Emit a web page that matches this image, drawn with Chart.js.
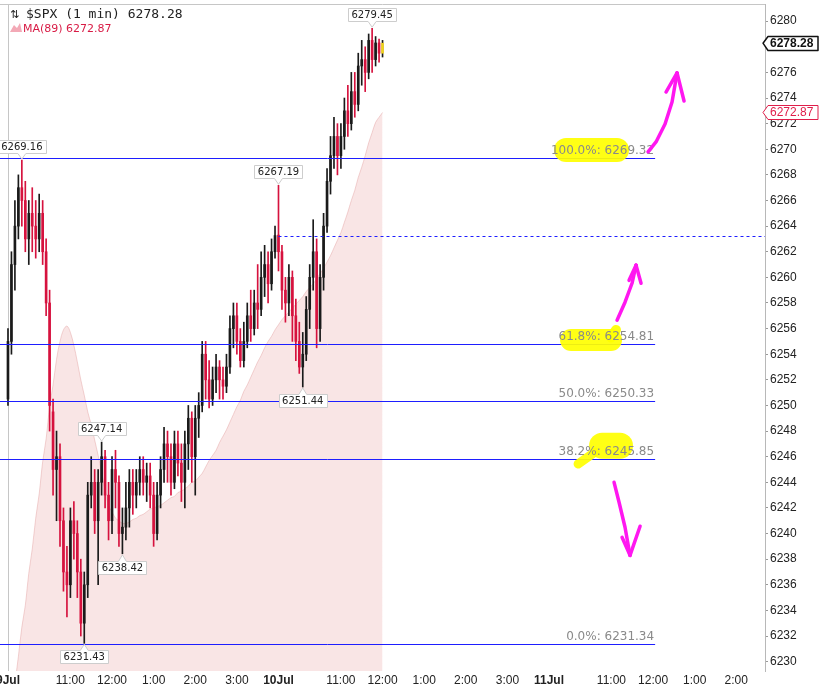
<!DOCTYPE html>
<html>
<head>
<meta charset="utf-8">
<script src="https://cdn.jsdelivr.net/npm/chart.js@4.4.1/dist/chart.umd.min.js"></script>
<style>
  html, body { margin: 0; padding: 0; background: #fff; }
  canvas { display: block; }
</style>
</head>
<body>
<canvas id="spx" width="834" height="686"></canvas>
<script>
// $SPX intraday, bars at 5 minute steps (trading minutes from 9 Jul 9:30)
const symbolName = '$SPX (1 min)';
const maName = 'MA(89)';

const opens = [
  6250.5, 6255, 6261, 6264, 6267, 6266, 6263, 6265, 6264, 6263,
  6265, 6262, 6258, 6249.5, 6245, 6246, 6241, 6237, 6236, 6241,
  6240, 6237, 6233, 6236, 6243, 6244, 6241, 6244, 6246, 6243,
  6241, 6245, 6244, 6240, 6240.5, 6242, 6244, 6243, 6244, 6245,
  6244, 6244.5, 6243, 6240, 6243, 6245, 6247, 6246, 6244, 6247,
  6245.5, 6244, 6247, 6249, 6246, 6249, 6250, 6254, 6252, 6250.5,
  6252, 6253, 6252, 6251.5, 6253, 6256, 6257, 6255, 6253.5, 6255,
  6257, 6256, 6258, 6257.5, 6260, 6261, 6259.5, 6262, 6263.3, 6262,
  6259, 6258, 6260, 6257, 6255, 6253, 6254, 6257.5, 6260, 6262,
  6256, 6260, 6264, 6267.5, 6269.5, 6271, 6269.5, 6271, 6273, 6272,
  6274.5, 6273.5, 6276.5, 6277, 6276, 6278.5, 6277, 6278.3, 6277.5
];
const highs = [
  6256, 6262, 6266, 6268, 6269.16, 6267.5, 6266, 6267, 6266, 6266.5,
  6266, 6263, 6259, 6250.5, 6248, 6247, 6242, 6239, 6242, 6242.5,
  6241, 6238, 6237, 6244, 6246, 6245, 6245, 6247.14, 6246.5, 6244,
  6246, 6246.5, 6244.5, 6242, 6244, 6245, 6245, 6245, 6246, 6246,
  6245.5, 6245.5, 6244, 6244, 6246, 6248.3, 6248, 6247, 6248, 6248,
  6247, 6248, 6250, 6249.5, 6250, 6251, 6255, 6255, 6253.5, 6253,
  6254, 6253.5, 6253, 6254, 6257, 6258, 6258, 6256, 6256.5, 6258,
  6259, 6259, 6261, 6262, 6262.5, 6262, 6263, 6264, 6267.19, 6262.5,
  6260, 6261, 6260.5, 6258.3, 6256.5, 6255.7, 6258.5, 6261, 6264.5, 6263,
  6261, 6265, 6268.5, 6271, 6272.5, 6272, 6272, 6274, 6275, 6276,
  6276, 6277.5, 6278.5, 6278, 6279, 6279.45, 6278.8, 6278.6, 6278.5
];
const lows = [
  6250, 6254, 6259, 6263, 6264, 6262, 6261, 6262, 6261.5, 6262,
  6261, 6257, 6248, 6243, 6241, 6239, 6235.5, 6233.5, 6235, 6238,
  6235, 6232, 6231.43, 6235, 6242, 6240, 6236, 6243, 6242, 6239.5,
  6240, 6242, 6239, 6238.42, 6239.5, 6240.5, 6241.5, 6242, 6243, 6243,
  6242.5, 6242, 6239, 6239.5, 6242, 6244, 6244, 6243, 6243.5, 6244.5,
  6242.5, 6242, 6245, 6244, 6243, 6247.5, 6249.5, 6250.5, 6249.8, 6250,
  6251, 6250.5, 6250.5, 6251, 6252.5, 6254.5, 6254, 6253, 6253, 6254.5,
  6255, 6255.5, 6256, 6257, 6258.5, 6258, 6259, 6261.5, 6260.5, 6257.5,
  6256.5, 6257, 6255, 6253.5, 6252.5, 6251.44, 6253.5, 6256, 6259, 6254.5,
  6255, 6259, 6263.5, 6266.5, 6268.5, 6268, 6268.5, 6270, 6271, 6271.5,
  6272.5, 6273, 6275, 6274.5, 6275.5, 6276, 6276.5, 6276.8, 6277.2
];
const closes = [
  6255, 6261, 6264, 6267, 6266, 6263, 6265, 6264, 6263, 6265,
  6262, 6258, 6250, 6245, 6246, 6241, 6237, 6236, 6241, 6240,
  6237, 6233, 6236, 6243, 6244, 6241, 6244, 6246, 6243, 6241,
  6245, 6244, 6240, 6240.5, 6242, 6244, 6243, 6244, 6245, 6244,
  6244.5, 6243, 6240, 6243, 6245, 6247, 6246, 6244, 6247, 6245.5,
  6244, 6247, 6249, 6246, 6249, 6250, 6254, 6252, 6250.5, 6252,
  6253, 6252, 6251.5, 6253, 6256, 6257, 6255, 6253.5, 6255, 6257,
  6256, 6258, 6257.5, 6260, 6261, 6259.5, 6262, 6263.26, 6262, 6259,
  6258, 6260, 6257, 6255, 6253, 6254, 6257.5, 6260, 6262, 6256,
  6260, 6264, 6267.5, 6269.5, 6271, 6269.5, 6271, 6273, 6272, 6274.5,
  6273.5, 6276.5, 6277, 6276, 6278.5, 6277, 6278.3, 6277.5, 6278.28
];
const maValues = [
  6224.5, 6226.5, 6228.3, 6230.4, 6232.7, 6234.4, 6236.9, 6238.8, 6241.2, 6243.1,
  6245.6, 6247.4, 6249.9, 6251.6, 6253.6, 6255.0, 6255.9, 6256.2, 6255.7, 6254.7,
  6253.4, 6252.0, 6250.8, 6249.5, 6248.5, 6247.3, 6246.1, 6244.8, 6243.4, 6242.2,
  6241.7, 6241.2, 6241.0, 6240.8, 6240.8, 6240.9, 6241.1, 6241.2, 6241.4, 6241.5,
  6241.7, 6241.9, 6242.0, 6242.1, 6242.2, 6242.4, 6242.6, 6242.8, 6242.9, 6243.2,
  6243.3, 6243.5, 6243.7, 6244.0, 6244.1, 6244.4, 6244.7, 6245.2, 6245.7, 6246.1,
  6246.5, 6247.1, 6247.6, 6248.1, 6248.7, 6249.3, 6249.9, 6250.4, 6251.1, 6251.6,
  6252.2, 6252.8, 6253.4, 6253.9, 6254.5, 6255.0, 6255.4, 6255.9, 6256.3, 6256.7,
  6257.0, 6257.3, 6257.6, 6257.9, 6258.2, 6258.5, 6258.9, 6259.2, 6259.5, 6259.9,
  6260.3, 6260.7, 6261.2, 6261.7, 6262.3, 6262.9, 6263.5, 6264.3, 6265.1, 6266.0,
  6266.8, 6267.8, 6268.6, 6269.5, 6270.5, 6271.3, 6272.1, 6272.5, 6272.87
];

// x axis: trading minutes, sessions joined end to end
const tickMinutes = [0, 90, 150, 210, 270, 330, 390, 480, 540, 600, 660, 720, 780, 870, 930, 990, 1050];
const tickLabels = ['9Jul', '11:00', '12:00', '1:00', '2:00', '3:00', '10Jul', '11:00', '12:00', '1:00', '2:00', '3:00', '11Jul', '11:00', '12:00', '1:00', '2:00'];
const yTicks = [6230, 6232, 6234, 6236, 6238, 6240, 6242, 6244, 6246, 6248, 6250, 6252, 6254,
  6256, 6258, 6260, 6262, 6264, 6266, 6268, 6270, 6272, 6274, 6276, 6278, 6280];

// fibonacci retracement levels
const fibPcts = [100, 61.8, 50, 38.2, 0];
const fibValues = [6269.32, 6254.81, 6250.33, 6245.85, 6231.34];
const fibEndMinute = 933;
const prevClose = 6263.26;
const prevCloseFrom = 390;

// annotated highs / lows (bar index + which end)
const markerBars = [4, 22, 27, 33, 78, 85, 105];
const markerEnds = ['high', 'low', 'high', 'low', 'high', 'low', 'high'];

// hand drawn marks, in (minute, price)
const highlights = [
  { w: 24, pts: [[804.6, 6269.94], [878.1, 6269.94]] },
  { w: 22, pts: [[811.8, 6255.11], [869.4, 6255.11]] },
  { w: 10, pts: [[869.4, 6255.3], [876.6, 6255.89]] },
  { w: 26, pts: [[856.5, 6246.85], [882.4, 6246.85]] },
  { w: 9, pts: [[846.4, 6246.37], [821.9, 6245.43]] }
];
const arrows = [
  { path: [[922.8, 6269.79], [934.3, 6270.57], [947.3, 6271.97], [957.4, 6273.69], [964.6, 6275.96]],
    barbs: [[948.7, 6274.47], [974.7, 6273.77]] },
  { path: [[878.1, 6256.65], [889.6, 6258.06], [899.7, 6259.54], [905.5, 6260.95]],
    barbs: [[895.4, 6259.77], [912.7, 6259.54]] },
  { path: [[873.8, 6244.0], [881.0, 6242.44], [889.6, 6240.49], [896.8, 6238.30]],
    barbs: [[885.3, 6239.71], [911.3, 6240.57]] }
];

const upColor = '#1a1a1a';
const downColor = '#d6123e';

const barTimes = closes.map((c, i) => i * 5);
const wickData = closes.map((c, i) => ({ x: barTimes[i], y: [lows[i], highs[i]] }));
const bodyData = closes.map((c, i) => ({ x: barTimes[i], y: [opens[i], c] }));
const barColors = closes.map((c, i) => c >= opens[i] ? upColor : downColor);
const bodyColors = barColors.map((c, i) => i === closes.length - 1 ? '#f0d21c' : c);
const maData = maValues.map((v, i) => ({ x: barTimes[i], y: v }));

const lastPrice = closes[closes.length - 1];
const lastMa = maValues[maValues.length - 1];

function polyline(ctx, x, y, pts) {
  ctx.beginPath();
  pts.forEach((p, i) => {
    const px = x.getPixelForValue(p[0]), py = y.getPixelForValue(p[1]);
    if (i === 0) ctx.moveTo(px, py); else ctx.lineTo(px, py);
  });
}

function pointTag(ctx, px, py, text, above) {
  ctx.font = '10px "DejaVu Sans"';
  const w = Math.ceil(ctx.measureText(text).width) + 6, h = 13, gap = 7;
  const left = Math.round(px - w / 2) + 0.5;
  const top = Math.round(above ? py - gap - h : py + gap) + 0.5;
  ctx.beginPath();
  if (above) {
    ctx.moveTo(left, top); ctx.lineTo(left + w, top); ctx.lineTo(left + w, top + h);
    ctx.lineTo(px + 4, top + h); ctx.lineTo(px, py - 1); ctx.lineTo(px - 4, top + h);
    ctx.lineTo(left, top + h);
  } else {
    ctx.moveTo(left, top); ctx.lineTo(px - 4, top); ctx.lineTo(px, py + 1); ctx.lineTo(px + 4, top);
    ctx.lineTo(left + w, top); ctx.lineTo(left + w, top + h); ctx.lineTo(left, top + h);
  }
  ctx.closePath();
  ctx.fillStyle = '#fff';
  ctx.fill();
  ctx.strokeStyle = '#cdcdcd';
  ctx.lineWidth = 1;
  ctx.stroke();
  ctx.fillStyle = '#222';
  ctx.textAlign = 'center';
  ctx.textBaseline = 'middle';
  ctx.fillText(text, px, top + h / 2 + 0.5);
}

function axisTag(ctx, tipX, py, text, color, bold) {
  const h = 14, left = tipX + 5, w = 50;
  const top = Math.round(py - h / 2) + 0.5;
  ctx.beginPath();
  ctx.moveTo(tipX, py); ctx.lineTo(left, top); ctx.lineTo(left + w, top);
  ctx.lineTo(left + w, top + h); ctx.lineTo(left, top + h); ctx.closePath();
  ctx.fillStyle = '#fff';
  ctx.fill();
  ctx.strokeStyle = color;
  ctx.lineWidth = bold ? 1.5 : 1;
  ctx.stroke();
  ctx.font = (bold ? 'bold ' : '') + '12px "Liberation Sans"';
  ctx.fillStyle = color;
  ctx.textAlign = 'left';
  ctx.textBaseline = 'middle';
  ctx.fillText(text, left + 2, py + 0.5);
}

const overlay = {
  id: 'overlay',
  beforeDatasetsDraw(chart) {
    const { ctx, chartArea: a, scales: { x } } = chart;
    ctx.save();
    ctx.strokeStyle = '#c6c6c6';
    ctx.lineWidth = 1;
    ctx.beginPath();
    ctx.moveTo(a.left, a.top + 0.5);
    ctx.lineTo(a.right, a.top + 0.5);
    const sx = Math.round(x.getPixelForValue(0)) + 0.5;
    ctx.moveTo(sx, a.top);
    ctx.lineTo(sx, a.bottom);
    ctx.stroke();
    ctx.restore();
  },
  afterDatasetsDraw(chart) {
    const { ctx, chartArea: a, scales: { x, y } } = chart;
    ctx.save();
    const fibEnd = x.getPixelForValue(fibEndMinute);

    // retracement lines
    ctx.strokeStyle = '#1e1eff';
    ctx.lineWidth = 1;
    fibValues.forEach(v => {
      const py = Math.round(y.getPixelForValue(v)) + 0.5;
      ctx.beginPath();
      ctx.moveTo(a.left, py);
      ctx.lineTo(fibEnd, py);
      ctx.stroke();
    });
    // previous close
    const pc = Math.round(y.getPixelForValue(prevClose)) + 0.5;
    ctx.setLineDash([3, 3]);
    ctx.beginPath();
    ctx.moveTo(x.getPixelForValue(prevCloseFrom), pc);
    ctx.lineTo(a.right, pc);
    ctx.stroke();
    ctx.setLineDash([]);

    // highlighter
    ctx.strokeStyle = 'rgba(255, 255, 0, 0.92)';
    ctx.lineCap = 'round';
    ctx.lineJoin = 'round';
    highlights.forEach(hl => {
      ctx.lineWidth = hl.w;
      polyline(ctx, x, y, hl.pts);
      ctx.stroke();
    });

    // level labels
    ctx.font = '12px "DejaVu Sans"';
    ctx.fillStyle = '#8a8a8a';
    ctx.textAlign = 'right';
    ctx.textBaseline = 'bottom';
    fibValues.forEach((v, i) => {
      const py = Math.round(y.getPixelForValue(v));
      ctx.fillText(fibPcts[i].toFixed(1) + '%: ' + v.toFixed(2), fibEnd - 1, py - 1);
    });

    // magenta arrows
    ctx.strokeStyle = '#ff17f0';
    ctx.lineWidth = 3.5;
    arrows.forEach(ar => {
      polyline(ctx, x, y, ar.path);
      ctx.stroke();
      const tip = ar.path[ar.path.length - 1];
      ar.barbs.forEach(b => {
        polyline(ctx, x, y, [b, tip]);
        ctx.stroke();
      });
    });
    ctx.lineCap = 'butt';

    // high / low tags
    markerBars.forEach((bi, k) => {
      const isHigh = markerEnds[k] === 'high';
      const v = isHigh ? highs[bi] : lows[bi];
      pointTag(ctx, x.getPixelForValue(barTimes[bi]), y.getPixelForValue(v), v.toFixed(2), isHigh);
    });

    // price tags on the axis
    axisTag(ctx, a.right - 2, y.getPixelForValue(lastMa), lastMa.toFixed(2), '#e01e4a', false);
    axisTag(ctx, a.right - 2, y.getPixelForValue(lastPrice), lastPrice.toFixed(2), '#111', true);

    // legend
    ctx.textAlign = 'left';
    ctx.textBaseline = 'alphabetic';
    ctx.fillStyle = '#222';
    ctx.font = '11px "DejaVu Sans"';
    ctx.fillText('\u21C5', 10, 18);
    ctx.font = '13px "DejaVu Sans Mono"';
    ctx.fillText(symbolName + ' ' + lastPrice.toFixed(2), 26, 18);
    ctx.fillStyle = '#f3a9b6';
    ctx.beginPath();
    ctx.moveTo(10, 32); ctx.lineTo(14, 25); ctx.lineTo(17, 28); ctx.lineTo(20, 23); ctx.lineTo(22, 32);
    ctx.closePath();
    ctx.fill();
    ctx.font = '11px "DejaVu Sans"';
    ctx.fillStyle = '#d81b45';
    ctx.fillText(maName + ' ' + lastMa.toFixed(2), 23, 32);
    ctx.restore();
  }
};

new Chart(document.getElementById('spx'), {
  type: 'bar',
  data: {
    datasets: [
      {
        type: 'line',
        label: maName,
        data: maData,
        order: 3,
        fill: 'start',
        backgroundColor: 'rgba(232, 160, 160, 0.28)',
        borderColor: 'rgba(226, 160, 160, 0.45)',
        borderWidth: 1,
        pointRadius: 0,
        tension: 0.35
      },
      {
        label: 'range',
        data: wickData,
        order: 2,
        backgroundColor: barColors,
        barThickness: 1,
        grouped: false
      },
      {
        label: 'body',
        data: bodyData,
        order: 1,
        backgroundColor: bodyColors,
        barThickness: 2,
        minBarLength: 1,
        grouped: false
      }
    ]
  },
  options: {
    responsive: false,
    animation: false,
    devicePixelRatio: 1,
    layout: { padding: { top: 4, left: 0, right: 0, bottom: 0 }, autoPadding: false },
    plugins: { legend: { display: false }, tooltip: { enabled: false } },
    scales: {
      x: {
        type: 'linear',
        offset: false,
        min: -11.5,
        max: 1091.4,
        grid: { display: false, drawTicks: false },
        border: { display: false },
        afterBuildTicks: s => { s.ticks = tickMinutes.map(v => ({ value: v })); },
        afterFit: s => { s.height = 15; s.paddingLeft = 0; s.paddingRight = 0; },
        ticks: {
          autoSkip: false,
          maxRotation: 0,
          padding: 2,
          color: '#222',
          callback: (v, i) => tickLabels[i],
          font: c => ({ family: 'Liberation Sans', size: 12, weight: /Jul/.test(tickLabels[c.index]) ? 'bold' : 'normal' })
        }
      },
      y: {
        position: 'right',
        min: 6229.27,
        max: 6281.34,
        grid: { drawOnChartArea: false, tickLength: 3, color: '#9a9a9a' },
        border: { color: '#b8b8b8' },
        afterBuildTicks: s => { s.ticks = yTicks.map(v => ({ value: v })); },
        afterFit: s => { s.width = 69; s.paddingTop = 0; s.paddingBottom = 0; },
        ticks: {
          padding: 2,
          color: '#222',
          font: { family: 'Liberation Sans', size: 12 },
          callback: v => String(v)
        }
      }
    }
  },
  plugins: [overlay]
});
</script>
</body>
</html>
